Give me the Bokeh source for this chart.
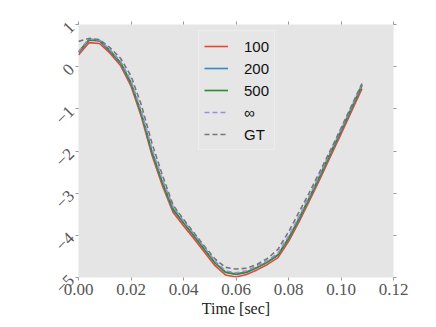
import math
from bokeh.plotting import figure
from bokeh.models import (LinearAxis, FixedTicker, NumeralTickFormatter, CustomJSTickFormatter,
                          Legend, LegendItem, ColumnDataSource)
from bokeh.embed import file_html
from bokeh.resources import INLINE

# ---- data ----
time_s = [0.000, 0.004, 0.008, 0.012, 0.016, 0.020, 0.024, 0.028, 0.032, 0.036,
          0.040, 0.044, 0.048, 0.052, 0.056, 0.060, 0.064, 0.068, 0.072, 0.076,
          0.080, 0.084, 0.088, 0.092, 0.096, 0.100, 0.104, 0.108]

s100 = [0.28, 0.57, 0.55, 0.32, 0.03, -0.46, -1.20, -2.10, -2.83, -3.45,
        -3.77, -4.08, -4.40, -4.72, -4.94, -4.99, -4.93, -4.82, -4.69, -4.53,
        -4.15, -3.68, -3.18, -2.66, -2.13, -1.60, -1.06, -0.52]
s200 = [0.33, 0.63, 0.61, 0.36, 0.08, -0.40, -1.14, -2.04, -2.77, -3.40,
        -3.71, -4.02, -4.34, -4.66, -4.88, -4.93, -4.88, -4.77, -4.64, -4.47,
        -4.09, -3.62, -3.12, -2.60, -2.07, -1.54, -1.00, -0.45]
s500 = [0.35, 0.64, 0.62, 0.38, 0.10, -0.38, -1.12, -2.02, -2.75, -3.37,
        -3.70, -4.01, -4.33, -4.65, -4.87, -4.92, -4.87, -4.76, -4.63, -4.46,
        -4.07, -3.60, -3.10, -2.58, -2.05, -1.52, -0.98, -0.43]
sinf = [0.36, 0.66, 0.63, 0.40, 0.13, -0.33, -1.06, -1.95, -2.68, -3.32,
        -3.66, -3.97, -4.29, -4.61, -4.84, -4.89, -4.84, -4.73, -4.60, -4.42,
        -4.02, -3.55, -3.06, -2.54, -2.01, -1.49, -0.95, -0.41]
sgt = [0.60, 0.67, 0.64, 0.45, 0.20, -0.22, -0.92, -1.82, -2.58, -3.28,
       -3.62, -3.94, -4.26, -4.56, -4.76, -4.80, -4.78, -4.69, -4.55, -4.33,
       -3.92, -3.45, -2.98, -2.48, -1.98, -1.46, -0.93, -0.40]

series_names = ["100", "200", "500", "\u221e", "GT"]
series_values = [s100, s200, s500, sinf, sgt]
series_colors = ["#E24A33", "#348ABD", "#2e8b2e", "#988ED5", "#777777"]
series_dash = ["solid", "solid", "solid", "5 3", "5 3"]

x_ticks = [0.0, 0.02, 0.04, 0.06, 0.08, 0.10, 0.12]
y_ticks = [-5, -4, -3, -2, -1, 0, 1]
y_tick_labels = {t: (("\u2212" + str(-t)) if t < 0 else str(t)) for t in y_ticks}

SERIF = "Liberation Serif"

p = figure(frame_width=315, frame_height=253,
           x_range=(0, 0.12), y_range=(-5, 1),
           output_backend="svg", toolbar_location=None,
           background_fill_color="#e5e5e5", border_fill_color="white",
           outline_line_color=None,
           min_border_left=78, min_border_right=30, min_border_top=24, min_border_bottom=40)
p.grid.visible = False

def style_axis(ax, show_labels=True):
    ax.axis_line_color = None
    ax.major_tick_line_color = "#999999"
    ax.major_tick_line_width = 1
    ax.major_tick_in = 0
    ax.major_tick_out = 3
    ax.minor_tick_line_color = None
    ax.major_label_text_font = SERIF
    ax.major_label_text_font_size = "17px"
    ax.major_label_text_color = "#555555"
    if not show_labels:
        ax.formatter = CustomJSTickFormatter(code="return ''")
        ax.major_label_standoff = 0
        ax.major_label_text_font_size = "0px"

xa = p.xaxis[0]
xa.ticker = FixedTicker(ticks=x_ticks)
xa.formatter = NumeralTickFormatter(format="0.00")
style_axis(xa)
xa.major_label_standoff = 3
xa.axis_label = "Time [sec]"
xa.axis_label_text_font = SERIF
xa.axis_label_text_font_size = "16px"
xa.axis_label_text_font_style = "normal"
xa.axis_label_text_color = "#222222"
xa.axis_label_standoff = 2

ya = p.yaxis[0]
ya.ticker = FixedTicker(ticks=y_ticks)
ya.major_label_overrides = y_tick_labels
style_axis(ya)
ya.major_label_orientation = math.pi / 4
ya.major_label_standoff = 4

top = LinearAxis(ticker=FixedTicker(ticks=x_ticks))
style_axis(top, show_labels=False)
p.add_layout(top, "above")
right = LinearAxis(ticker=FixedTicker(ticks=y_ticks))
style_axis(right, show_labels=False)
p.add_layout(right, "right")

items = []
for name, vals, col, dash in zip(series_names, series_values, series_colors, series_dash):
    src = ColumnDataSource(dict(x=time_s, y=vals))
    r = p.line("x", "y", source=src, line_color=col, line_width=1.6, line_dash=dash)
    items.append(LegendItem(label=name, renderers=[r]))

legend = Legend(items=items, location=(120, 127), margin=0, padding=5, spacing=2,
                glyph_width=24, glyph_height=20, label_height=20, label_standoff=16,
                label_text_font="Liberation Sans", label_text_font_size="15px",
                label_text_color="#111111",
                background_fill_color="#e6e6e6", background_fill_alpha=1.0,
                border_line_color="#f4f4f4", border_line_width=1.5)
p.add_layout(legend)

open("out.html", "w").write(file_html(p, INLINE))
